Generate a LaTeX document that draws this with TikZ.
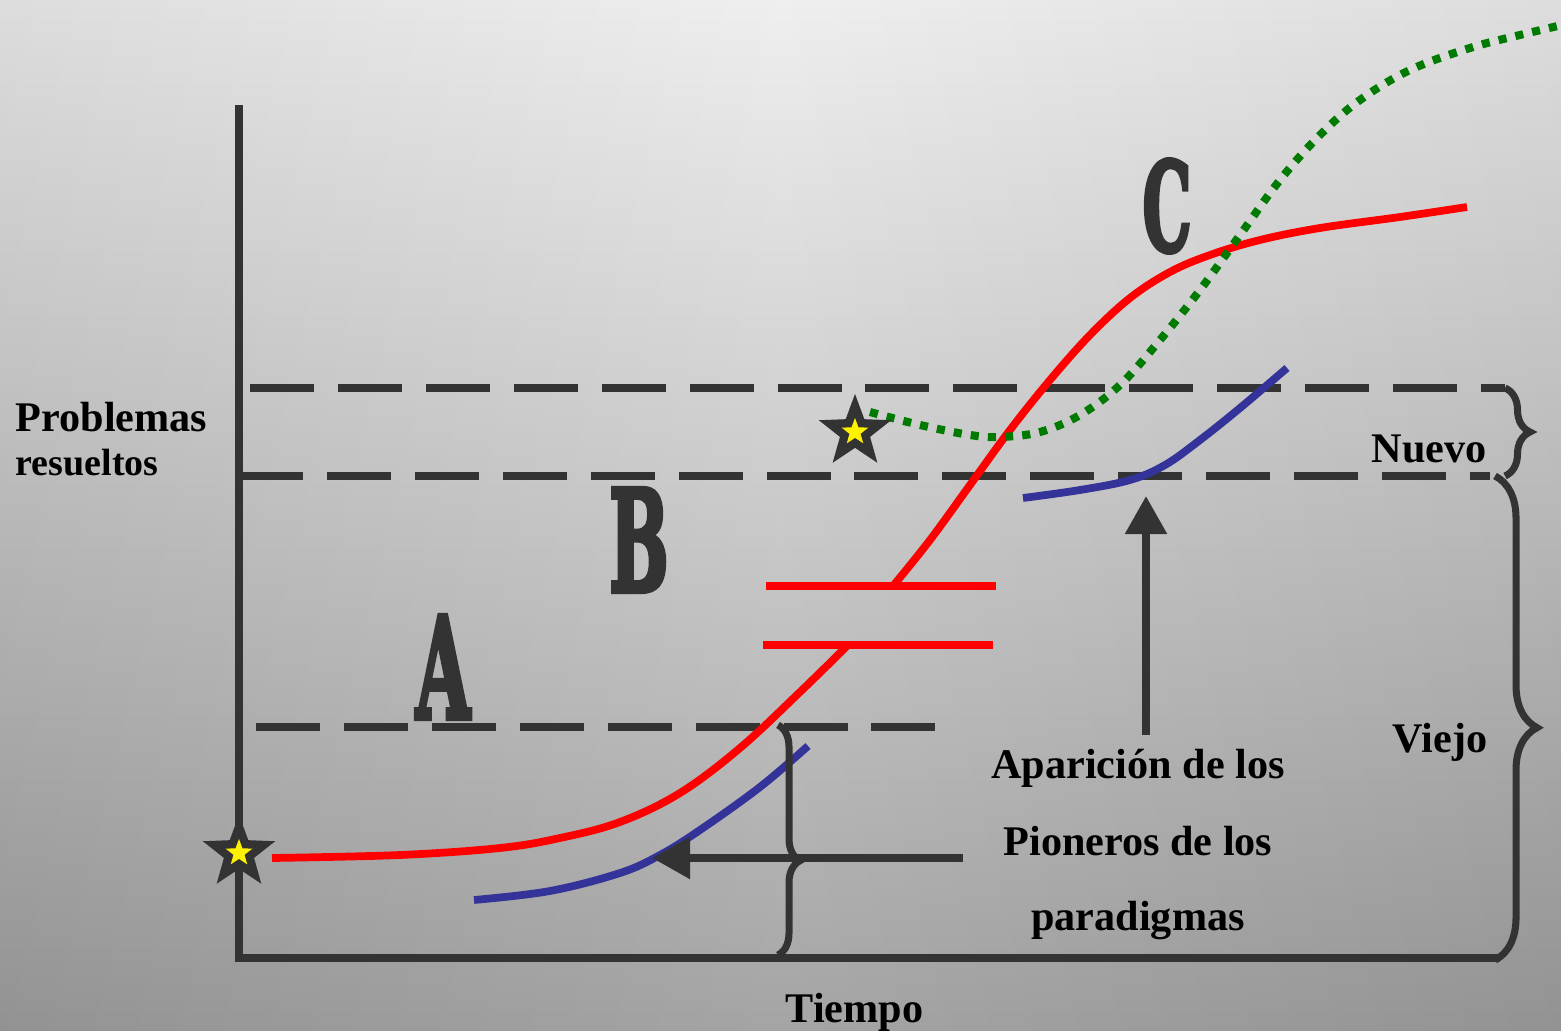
\documentclass[tikz,border=0pt]{standalone}
\usepackage{fontspec}
\usepackage{graphicx}
\setmainfont{Liberation Serif}
\newfontfamily\slabfont[FakeBold=4]{DejaVu Serif}
\usetikzlibrary{positioning, arrows.meta, shapes.geometric, decorations.pathreplacing}
\definecolor{ejegris}{RGB}{51,51,51}
\definecolor{fondoalto}{RGB}{238,238,238}
\definecolor{fondobajo}{RGB}{158,158,158}
\definecolor{azulpar}{RGB}{51,51,153}
\definecolor{verdepar}{RGB}{0,122,0}
\newcommand{\estrecha}[1]{\scalebox{0.5}[1]{#1}}

\begin{document}
\begin{tikzpicture}[
    x=0.01cm, y=-0.01cm,
    every node/.style = {font=\bfseries\fontsize{12}{14}\selectfont, inner sep=0pt},
    eje/.style = {line width=2.1pt, color=ejegris},
    nivel/.style = {line width=2pt, color=ejegris, dash pattern=on 18.2pt off 6.8pt},
    curvaroja/.style = {line width=2.2pt, red},
    curvaazul/.style = {line width=2.2pt, azulpar},
    curvaverde/.style = {line width=2.3pt, verdepar, dash pattern=on 2.3pt off 2.6pt},
    llave/.style = {line width=2pt, color=ejegris, decorate,
                    decoration={brace, amplitude=#1}},
    flecha/.style = {-{Triangle[length=0.38cm, width=0.40cm]}, line width=2.4pt, color=ejegris},
    estrella/.style = {star, star points=5, star point ratio=2.4, fill=ejegris,
                       inner sep=0pt, minimum size=0.76cm},
    brillo/.style = {star, star points=5, star point ratio=2.4, fill=yellow,
                     inner sep=0pt, minimum size=0.28cm},
    letra/.style = {font=\slabfont\bfseries\fontsize{#1}{#1}\selectfont, text=ejegris}
  ]
  % fondo
  \shade[top color=fondoalto, bottom color=fondobajo] (0,0) rectangle (1561,1031);
  \shade[left color=black, right color=black, middle color=black!0, opacity=0.07]
    (0,0) rectangle (1561,1031);
  \useasboundingbox (0,0) rectangle (1561,1031);

  % ejes
  \coordinate (ejetop) at (239,105);
  \coordinate (origen) at (239,958);
  \coordinate (ejefin) at (1500,958);
  \draw[eje] (ejetop) -- (origen) -- (ejefin);

  % niveles
  \draw[nivel] (250,388) -- (1505,388);
  \draw[nivel] (239,476) -- (1490,476);
  \draw[nivel] (256,727) -- (935,727);

  % paradigma A
  \draw[curvaroja] plot[smooth, tension=0.6] coordinates {(272,858) (400,855) (500,848)
    (560,838) (620,822) (680,793) (740,748) (800,692) (848,645)};
  \draw[curvaroja] (763,645) -- (993,645);
  \draw[curvaroja] (766,586) -- (996,586);
  % paradigma B
  \draw[curvaroja] plot[smooth, tension=0.6] coordinates {(893,586) (930,540) (970,485)
    (1010,430) (1050,380) (1090,335) (1130,298) (1170,272) (1210,255) (1260,240)
    (1320,228) (1400,217) (1467,207)};
  % pioneros
  \draw[curvaazul] plot[smooth, tension=0.6] coordinates {(474,900) (550,891) (620,873)
    (660,855) (700,830) (760,787) (808,746)};
  \draw[curvaazul] plot[smooth, tension=0.6] coordinates {(1023,498) (1080,490) (1130,480)
    (1165,465) (1200,440) (1240,408) (1287,368)};
  % paradigma C
  \draw[curvaverde] plot[smooth, tension=0.6] coordinates {(870,412) (920,425) (970,435)
    (1000,437) (1040,432) (1080,415) (1120,385) (1160,340) (1200,290) (1240,235)
    (1280,180) (1320,135) (1360,100) (1410,70) (1470,48) (1520,35) (1575,22)};

  % estrellas
  \node[estrella] (estrellaA) at (239,853) {};
  \node[brillo] at (estrellaA) {};
  \node[estrella] (estrellaC) at (855,432) {};
  \node[brillo] at (estrellaC) {};

  % letras
  \node[letra=40] (letraA) at (443,667) {\estrecha{A}};
  \node[letra=40] (letraB) at (639,540) {\estrecha{B}};
  \node[letra=35] (letraC) at (1167,206) {\estrecha{C}};

  % llaves
  \draw[llave=0.25cm] (1505,388) -- (1505,476);
  \draw[llave=0.42cm, decoration={aspect=0.52}] (1495,476) -- (1495,960);
  \draw[llave=0.22cm, decoration={aspect=0.59}] (778,725) -- (778,955);

  % textos
  \node[anchor=base west] (problemas) at (15,432) {Problemas};
  \node[anchor=base west, font=\bfseries\fontsize{10.8}{12}\selectfont] (resueltos) at (15,476) {resueltos};
  \node[anchor=base west] (nuevo) at (1371,463) {Nuevo};
  \node[anchor=base west] (viejo) at (1392,752) {Viejo};
  \node[anchor=base west] (tiempo) at (785,1022) {Tiempo};
  \node[anchor=base] (aparicion) at (1138,778) {Aparición de los};
  \node[anchor=base] (pioneros) at (1138,855) {Pioneros de los};
  \node[anchor=base] (paradigmas) at (1138,930) {paradigmas};

  % flechas
  \coordinate (salidah) at (963,858);
  \coordinate (puntah) at (652,858);
  \coordinate (salidav) at (1146,735);
  \coordinate (puntav) at (1146,496);
  \draw[flecha] (salidah) -- (puntah);
  \draw[flecha] (salidav) -- (puntav);
\end{tikzpicture}
\end{document}
